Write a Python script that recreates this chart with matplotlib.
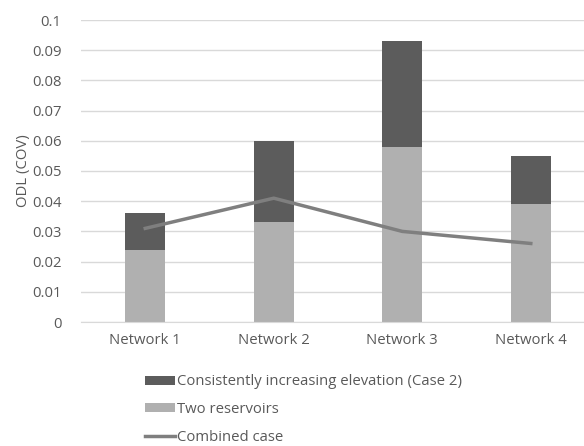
import numpy as np
import matplotlib
matplotlib.use("Agg")
import matplotlib.pyplot as plt

networks = ["Network 1", "Network 2", "Network 3", "Network 4"]
two_reservoirs = [0.024, 0.033, 0.058, 0.039]
case2_total = [0.036, 0.060, 0.093, 0.055]
combined = [0.031, 0.041, 0.030, 0.026]

case2_part = [t - b for t, b in zip(case2_total, two_reservoirs)]

plt.rcParams["font.family"] = ["Open Sans", "DejaVu Sans"]
txt = "#595959"
fs = 10.7

fig = plt.figure(figsize=(5.84, 4.46), dpi=100)
ax = fig.add_axes([81 / 584, 1 - 322 / 446, 503 / 584, 302 / 446])

x = np.arange(len(networks))
ax.bar(x, two_reservoirs, width=0.31, color="#b0b0b0", label="Two reservoirs", zorder=2)
ax.bar(x, case2_part, width=0.31, bottom=two_reservoirs, color="#5c5c5c",
       label="Consistently increasing elevation (Case 2)", zorder=2)
ax.plot(x, combined, color="#7f7f7f", lw=2.5, label="Combined case", zorder=3)

ax.set_ylim(0, 0.1)
ax.set_xlim(-0.5, 3.414)
ax.set_yticks(np.arange(0, 0.1001, 0.01))
ax.set_yticklabels(["0"] + ["%.2f" % v for v in np.arange(0.01, 0.0951, 0.01)] + ["0.1"])
ax.set_xticks(x)
ax.set_xticklabels(networks)
ax.tick_params(length=0, colors=txt, labelsize=fs)
ax.tick_params(axis="x", pad=8)
ax.tick_params(axis="y", pad=14)
ax.grid(axis="y", color="#d9d9d9", lw=1, zorder=0)
for s in ["top", "right", "left"]:
    ax.spines[s].set_visible(False)
ax.spines["bottom"].set_color("#d9d9d9")
ax.set_ylabel("ODL (COV)", color=txt, fontsize=fs, labelpad=1)

h, l = ax.get_legend_handles_labels()
order = [2, 1, 0]
fig.legend([h[i] for i in order], [l[i] for i in order], loc="upper left",
           bbox_to_anchor=(132 / 584, 1 - 361 / 446), frameon=False, fontsize=fs,
           labelcolor=txt, handlelength=2.0, handletextpad=0.1, labelspacing=0.85,
           handleheight=0.55)

fig.savefig("out.png", dpi=100)
